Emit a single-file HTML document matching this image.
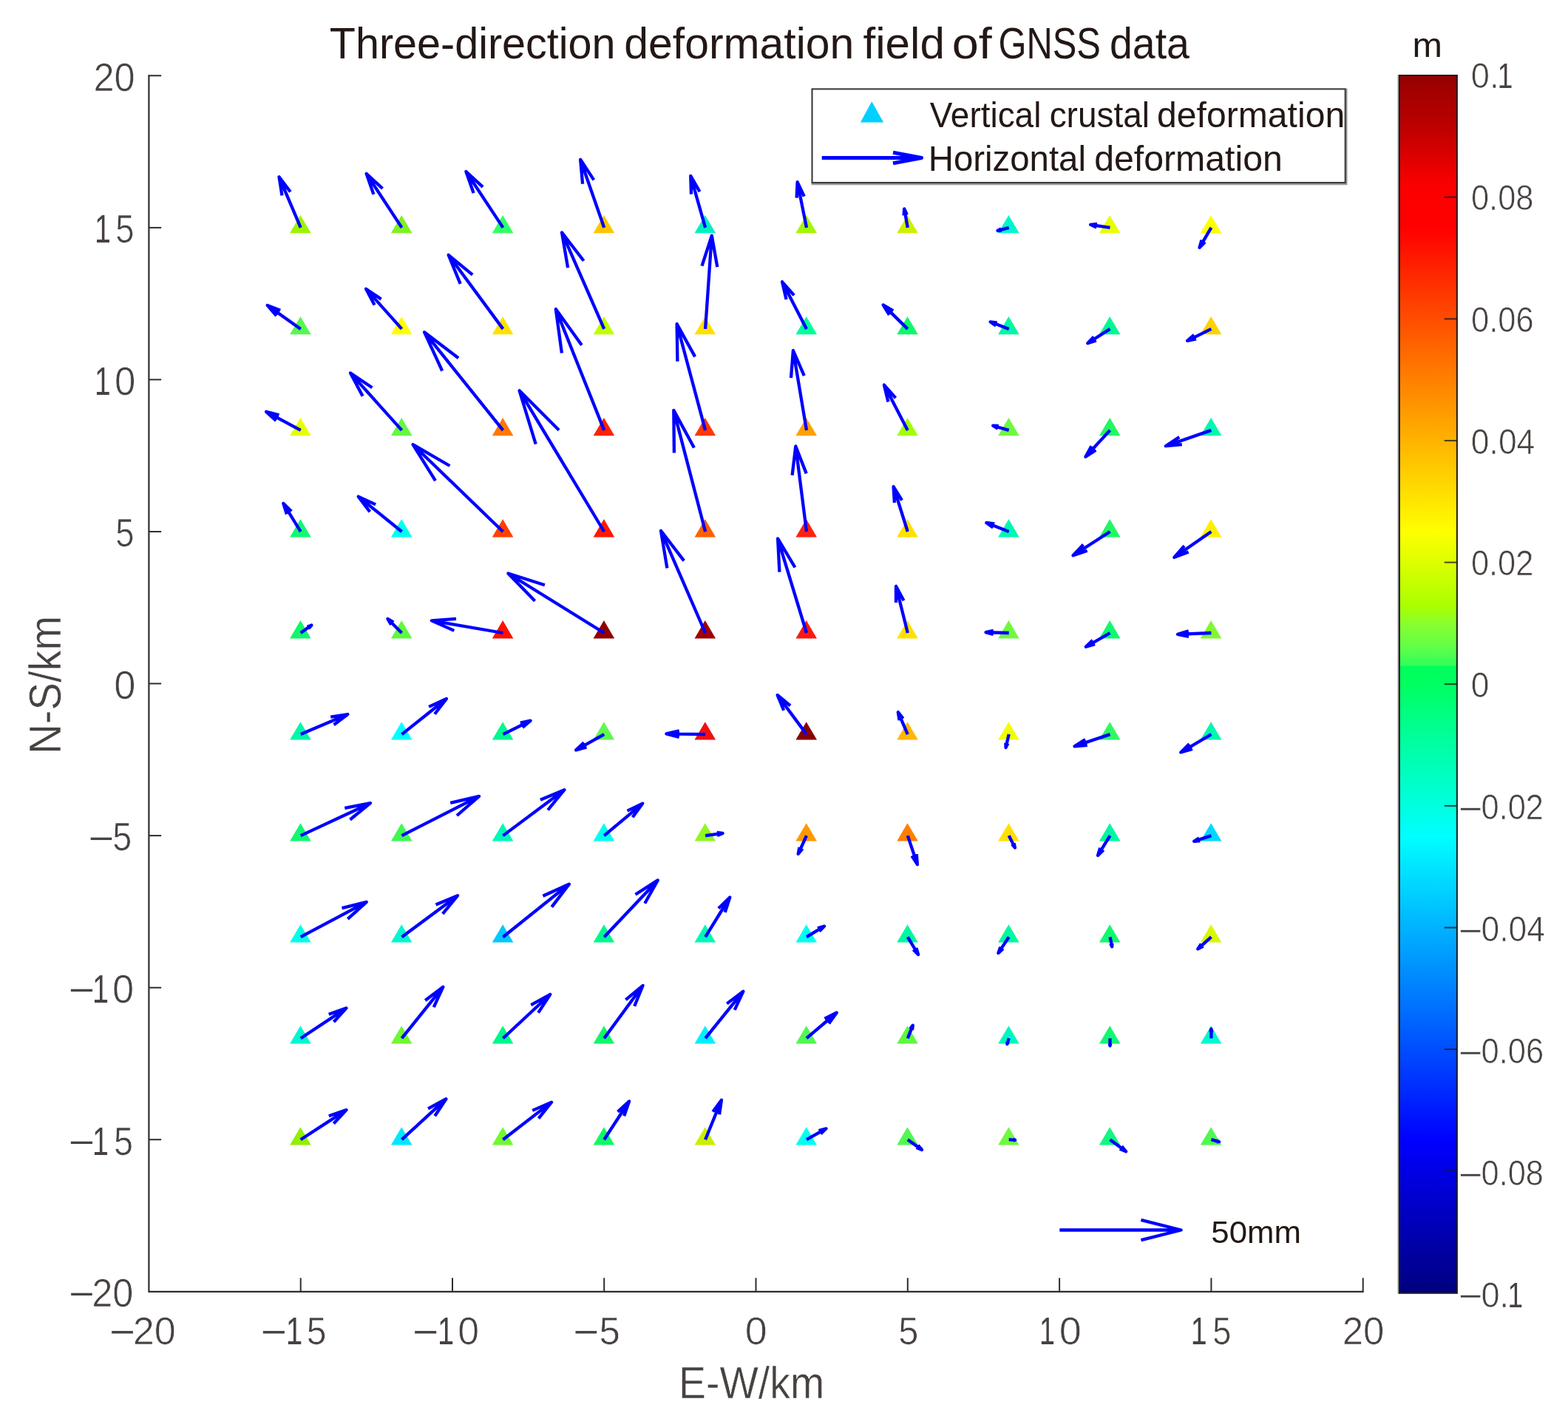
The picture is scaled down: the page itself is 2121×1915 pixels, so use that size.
<!DOCTYPE html><html><head><meta charset="utf-8"><title>Three-direction deformation field of GNSS data</title>
<style>html,body{margin:0;padding:0;background:#fff}svg{display:block}text{font-family:"Liberation Sans",sans-serif}</style></head><body>
<svg width="2121" height="1915" viewBox="0 0 2121 1915">
<rect width="2121" height="1915" fill="#fff"/>
<defs><linearGradient id="jet" x1="0" y1="0" x2="0" y2="1">
<stop offset="0.00000" stop-color="#960000"/>
<stop offset="0.04499" stop-color="#c00000"/>
<stop offset="0.08998" stop-color="#fb0000"/>
<stop offset="0.12497" stop-color="#ff0000"/>
<stop offset="0.24994" stop-color="#ff8000"/>
<stop offset="0.37491" stop-color="#ffff00"/>
<stop offset="0.41190" stop-color="#ccff00"/>
<stop offset="0.43589" stop-color="#aaff00"/>
<stop offset="0.45039" stop-color="#88ff30"/>
<stop offset="0.46989" stop-color="#60ff48"/>
<stop offset="0.48438" stop-color="#30ff58"/>
<stop offset="0.48538" stop-color="#00ff5c"/>
<stop offset="0.49988" stop-color="#00ff60"/>
<stop offset="0.54737" stop-color="#00ffa0"/>
<stop offset="0.62485" stop-color="#00ffff"/>
<stop offset="0.74982" stop-color="#0080ff"/>
<stop offset="0.87479" stop-color="#0000ff"/>
<stop offset="0.99976" stop-color="#000080"/>
</linearGradient></defs>
<rect x="1890.4" y="101.0" width="2.2" height="1648.8" fill="#a8a8a8"/>
<rect x="1892.9" y="102.0" width="78.0" height="1646.8" fill="url(#jet)" stroke="#1c1c1c" stroke-width="2"/>
<g stroke="#1a1a1a" stroke-opacity="0.8" stroke-width="2">
<line x1="1953.7" y1="266.6" x2="1970.9" y2="266.6"/>
<line x1="1953.7" y1="431.3" x2="1970.9" y2="431.3"/>
<line x1="1953.7" y1="595.9" x2="1970.9" y2="595.9"/>
<line x1="1953.7" y1="760.6" x2="1970.9" y2="760.6"/>
<line x1="1953.7" y1="925.2" x2="1970.9" y2="925.2"/>
<line x1="1953.7" y1="1089.8" x2="1970.9" y2="1089.8"/>
<line x1="1953.7" y1="1254.5" x2="1970.9" y2="1254.5"/>
<line x1="1953.7" y1="1419.1" x2="1970.9" y2="1419.1"/>
<line x1="1953.7" y1="1583.8" x2="1970.9" y2="1583.8"/>
</g>
<text y="118.97" font-size="47.75" fill="#474240"><tspan x="1989.84" textLength="37.74" lengthAdjust="spacingAndGlyphs" stroke="#fff" stroke-width="0.7">0.</tspan><tspan x="2025.83" textLength="20.57" lengthAdjust="spacingAndGlyphs">1</tspan></text>
<text x="1989.91" y="283.83" font-size="47.75" fill="#474240" textLength="84.53" lengthAdjust="spacingAndGlyphs" stroke="#fff" stroke-width="0.7">0.08</text>
<text x="1989.91" y="448.69" font-size="47.75" fill="#474240" textLength="84.76" lengthAdjust="spacingAndGlyphs" stroke="#fff" stroke-width="0.7">0.06</text>
<text x="1989.87" y="613.55" font-size="47.75" fill="#474240" textLength="86.47" lengthAdjust="spacingAndGlyphs" stroke="#fff" stroke-width="0.7">0.04</text>
<text x="1989.91" y="778.41" font-size="47.75" fill="#474240" textLength="84.46" lengthAdjust="spacingAndGlyphs" stroke="#fff" stroke-width="0.7">0.02</text>
<text x="1989.87" y="943.27" font-size="47.75" fill="#474240" textLength="24.71" lengthAdjust="spacingAndGlyphs" stroke="#fff" stroke-width="0.7">0</text>
<text y="1108.13" font-size="47.75" fill="#474240"><tspan x="1973.09" dy="1.80" textLength="32.87" lengthAdjust="spacingAndGlyphs" stroke="#fff" stroke-width="0.6">−</tspan><tspan x="2003.51" dy="-1.80" textLength="84.46" lengthAdjust="spacingAndGlyphs" stroke="#fff" stroke-width="0.7">0.02</tspan></text>
<text y="1272.99" font-size="47.75" fill="#474240"><tspan x="1973.09" dy="1.80" textLength="32.87" lengthAdjust="spacingAndGlyphs" stroke="#fff" stroke-width="0.6">−</tspan><tspan x="2003.47" dy="-1.80" textLength="86.47" lengthAdjust="spacingAndGlyphs" stroke="#fff" stroke-width="0.7">0.04</tspan></text>
<text y="1437.85" font-size="47.75" fill="#474240"><tspan x="1973.09" dy="1.80" textLength="32.87" lengthAdjust="spacingAndGlyphs" stroke="#fff" stroke-width="0.6">−</tspan><tspan x="2003.51" dy="-1.80" textLength="84.76" lengthAdjust="spacingAndGlyphs" stroke="#fff" stroke-width="0.7">0.06</tspan></text>
<text y="1602.71" font-size="47.75" fill="#474240"><tspan x="1973.09" dy="1.80" textLength="32.87" lengthAdjust="spacingAndGlyphs" stroke="#fff" stroke-width="0.6">−</tspan><tspan x="2003.51" dy="-1.80" textLength="84.53" lengthAdjust="spacingAndGlyphs" stroke="#fff" stroke-width="0.7">0.08</tspan></text>
<text y="1767.57" font-size="47.75" fill="#474240"><tspan x="1973.09" dy="1.80" textLength="32.87" lengthAdjust="spacingAndGlyphs" stroke="#fff" stroke-width="0.6">−</tspan><tspan x="2003.44" dy="-1.80" textLength="37.74" lengthAdjust="spacingAndGlyphs" stroke="#fff" stroke-width="0.7">0.</tspan><tspan x="2039.43" textLength="20.57" lengthAdjust="spacingAndGlyphs">1</tspan></text>
<text x="1910.64" y="76.80" font-size="46.67" fill="#231815" textLength="40.46" lengthAdjust="spacingAndGlyphs">m</text>
<path d="M201.4 101.3L201.4 1746.8L1844.65 1746.8" stroke="#2e2e2e" stroke-width="2.2" fill="none"/>
<g stroke="#2e2e2e" stroke-width="2">
<line x1="406.7" y1="1746.8" x2="406.7" y2="1728.3"/>
<line x1="201.4" y1="1541.2" x2="218.20000000000002" y2="1541.2"/>
<line x1="612.0" y1="1746.8" x2="612.0" y2="1728.3"/>
<line x1="201.4" y1="1335.7" x2="218.20000000000002" y2="1335.7"/>
<line x1="817.2" y1="1746.8" x2="817.2" y2="1728.3"/>
<line x1="201.4" y1="1130.1" x2="218.20000000000002" y2="1130.1"/>
<line x1="1022.5" y1="1746.8" x2="1022.5" y2="1728.3"/>
<line x1="201.4" y1="924.5" x2="218.20000000000002" y2="924.5"/>
<line x1="1227.8" y1="1746.8" x2="1227.8" y2="1728.3"/>
<line x1="201.4" y1="719.0" x2="218.20000000000002" y2="719.0"/>
<line x1="1433.1" y1="1746.8" x2="1433.1" y2="1728.3"/>
<line x1="201.4" y1="513.4" x2="218.20000000000002" y2="513.4"/>
<line x1="1638.4" y1="1746.8" x2="1638.4" y2="1728.3"/>
<line x1="201.4" y1="307.9" x2="218.20000000000002" y2="307.9"/>
<line x1="1843.7" y1="1746.8" x2="1843.7" y2="1728.3"/>
<line x1="201.4" y1="102.3" x2="218.20000000000002" y2="102.3"/>
</g>
<text y="1817.63" font-size="52.39" fill="#474240"><tspan x="148.11" dy="1.10" textLength="34.98" lengthAdjust="spacingAndGlyphs" stroke="#fff" stroke-width="0.3">−</tspan><tspan x="179.74" dy="-1.10" textLength="58.06" lengthAdjust="spacingAndGlyphs" stroke="#fff" stroke-width="0.7">20</tspan></text>
<text y="1817.63" font-size="52.39" fill="#474240"><tspan x="352.73" dy="1.10" textLength="35.28" lengthAdjust="spacingAndGlyphs" stroke="#fff" stroke-width="0.3">−</tspan><tspan x="386.87" dy="-1.10" textLength="22.51" lengthAdjust="spacingAndGlyphs">1</tspan><tspan x="414.72" textLength="26.81" lengthAdjust="spacingAndGlyphs" stroke="#fff" stroke-width="0.7">5</tspan></text>
<text y="1817.63" font-size="52.39" fill="#474240"><tspan x="557.94" dy="1.10" textLength="35.16" lengthAdjust="spacingAndGlyphs" stroke="#fff" stroke-width="0.3">−</tspan><tspan x="591.92" dy="-1.10" textLength="22.12" lengthAdjust="spacingAndGlyphs">1</tspan><tspan x="619.28" textLength="28.80" lengthAdjust="spacingAndGlyphs" stroke="#fff" stroke-width="0.7">0</tspan></text>
<text y="1817.63" font-size="52.39" fill="#474240"><tspan x="775.16" dy="1.10" textLength="34.92" lengthAdjust="spacingAndGlyphs" stroke="#fff" stroke-width="0.3">−</tspan><tspan x="810.41" dy="-1.10" textLength="28.34" lengthAdjust="spacingAndGlyphs" stroke="#fff" stroke-width="0.7">5</tspan></text>
<text x="1007.79" y="1817.63" font-size="52.39" fill="#474240" textLength="29.97" lengthAdjust="spacingAndGlyphs" stroke="#fff" stroke-width="0.7">0</text>
<text x="1215.20" y="1817.63" font-size="52.39" fill="#474240" textLength="27.16" lengthAdjust="spacingAndGlyphs" stroke="#fff" stroke-width="0.7">5</text>
<text y="1817.63" font-size="52.39" fill="#474240"><tspan x="1406.07" textLength="20.95" lengthAdjust="spacingAndGlyphs">1</tspan><tspan x="1432.89" textLength="30.09" lengthAdjust="spacingAndGlyphs" stroke="#fff" stroke-width="0.7">0</tspan></text>
<text y="1817.63" font-size="52.39" fill="#474240"><tspan x="1610.85" textLength="21.86" lengthAdjust="spacingAndGlyphs">1</tspan><tspan x="1640.24" textLength="25.17" lengthAdjust="spacingAndGlyphs" stroke="#fff" stroke-width="0.7">5</tspan></text>
<text x="1815.70" y="1817.63" font-size="52.39" fill="#474240" textLength="56.76" lengthAdjust="spacingAndGlyphs" stroke="#fff" stroke-width="0.7">20</text>
<text x="126.43" y="122.62" font-size="53.10" fill="#474240" textLength="56.11" lengthAdjust="spacingAndGlyphs" stroke="#fff" stroke-width="0.7">20</text>
<text y="328.18" font-size="53.10" fill="#474240"><tspan x="127.95" textLength="21.86" lengthAdjust="spacingAndGlyphs">1</tspan><tspan x="156.34" textLength="25.17" lengthAdjust="spacingAndGlyphs" stroke="#fff" stroke-width="0.7">5</tspan></text>
<text y="533.74" font-size="53.10" fill="#474240"><tspan x="128.09" textLength="21.60" lengthAdjust="spacingAndGlyphs">1</tspan><tspan x="155.11" textLength="28.34" lengthAdjust="spacingAndGlyphs" stroke="#fff" stroke-width="0.7">0</tspan></text>
<text x="156.24" y="739.31" font-size="53.10" fill="#474240" textLength="25.17" lengthAdjust="spacingAndGlyphs" stroke="#fff" stroke-width="0.7">5</text>
<text x="154.35" y="944.87" font-size="53.10" fill="#474240" textLength="29.16" lengthAdjust="spacingAndGlyphs" stroke="#fff" stroke-width="0.7">0</text>
<text y="1150.43" font-size="53.10" fill="#474240"><tspan x="119.27" dy="1.10" textLength="34.80" lengthAdjust="spacingAndGlyphs" stroke="#fff" stroke-width="0.3">−</tspan><tspan x="152.28" dy="-1.10" textLength="25.99" lengthAdjust="spacingAndGlyphs" stroke="#fff" stroke-width="0.7">5</tspan></text>
<text y="1355.99" font-size="53.10" fill="#474240"><tspan x="92.52" dy="1.10" textLength="35.34" lengthAdjust="spacingAndGlyphs" stroke="#fff" stroke-width="0.3">−</tspan><tspan x="125.03" dy="-1.10" textLength="22.05" lengthAdjust="spacingAndGlyphs">1</tspan><tspan x="152.05" textLength="29.16" lengthAdjust="spacingAndGlyphs" stroke="#fff" stroke-width="0.7">0</tspan></text>
<text y="1561.56" font-size="53.10" fill="#474240"><tspan x="92.52" dy="1.10" textLength="35.34" lengthAdjust="spacingAndGlyphs" stroke="#fff" stroke-width="0.3">−</tspan><tspan x="125.05" dy="-1.10" textLength="21.86" lengthAdjust="spacingAndGlyphs">1</tspan><tspan x="153.98" textLength="25.99" lengthAdjust="spacingAndGlyphs" stroke="#fff" stroke-width="0.7">5</tspan></text>
<text y="1767.12" font-size="53.10" fill="#474240"><tspan x="92.76" dy="1.10" textLength="34.92" lengthAdjust="spacingAndGlyphs" stroke="#fff" stroke-width="0.3">−</tspan><tspan x="124.22" dy="-1.10" textLength="56.21" lengthAdjust="spacingAndGlyphs" stroke="#fff" stroke-width="0.7">20</tspan></text>
<text x="917.91" y="1890.93" font-size="61.63" fill="#474240" textLength="197.23" lengthAdjust="spacingAndGlyphs" stroke="#fff" stroke-width="0.5">E-W/km</text>
<text transform="translate(82.14,1019.63) rotate(-90)" font-size="60.95" fill="#474240" textLength="186.80" lengthAdjust="spacingAndGlyphs" stroke="#fff" stroke-width="0.5">N-S/km</text>
<text y="78.70" font-size="59.86" fill="#231815"><tspan x="445.86" textLength="386.68" lengthAdjust="spacingAndGlyphs">Three-direction</tspan> <tspan x="844.34" textLength="310.93" lengthAdjust="spacingAndGlyphs">deformation</tspan> <tspan x="1167.50" textLength="110.39" lengthAdjust="spacingAndGlyphs">field</tspan> <tspan x="1287.81" textLength="54.03" lengthAdjust="spacingAndGlyphs">of</tspan> <tspan x="1350.46" textLength="138.49" lengthAdjust="spacingAndGlyphs">GNSS</tspan> <tspan x="1500.98" textLength="107.99" lengthAdjust="spacingAndGlyphs">data</tspan></text>
<g>
<path d="M406.4 291.0L420.7 315.3L392.1 315.3Z" fill="#9CF400"/>
<path d="M543.2 291.0L557.5 315.3L528.9 315.3Z" fill="#80F020"/>
<path d="M680.1 291.0L694.4 315.3L665.8 315.3Z" fill="#33FF66"/>
<path d="M816.9 291.0L831.2 315.3L802.6 315.3Z" fill="#FFC400"/>
<path d="M953.8 291.0L968.1 315.3L939.5 315.3Z" fill="#00F0C0"/>
<path d="M1090.7 291.0L1105.0 315.3L1076.4 315.3Z" fill="#A0F800"/>
<path d="M1227.5 291.0L1241.8 315.3L1213.2 315.3Z" fill="#D0F000"/>
<path d="M1364.4 291.0L1378.7 315.3L1350.1 315.3Z" fill="#00F8C8"/>
<path d="M1501.2 291.0L1515.5 315.3L1486.9 315.3Z" fill="#E8FF00"/>
<path d="M1638.1 291.0L1652.4 315.3L1623.8 315.3Z" fill="#FFFF00"/>
<path d="M406.4 428.0L420.7 452.3L392.1 452.3Z" fill="#55F850"/>
<path d="M543.2 428.0L557.5 452.3L528.9 452.3Z" fill="#FFFF00"/>
<path d="M680.1 428.0L694.4 452.3L665.8 452.3Z" fill="#FFE000"/>
<path d="M816.9 428.0L831.2 452.3L802.6 452.3Z" fill="#C0FF00"/>
<path d="M953.8 428.0L968.1 452.3L939.5 452.3Z" fill="#FFE000"/>
<path d="M1090.7 428.0L1105.0 452.3L1076.4 452.3Z" fill="#00FF98"/>
<path d="M1227.5 428.0L1241.8 452.3L1213.2 452.3Z" fill="#10F868"/>
<path d="M1364.4 428.0L1378.7 452.3L1350.1 452.3Z" fill="#00F8A0"/>
<path d="M1501.2 428.0L1515.5 452.3L1486.9 452.3Z" fill="#00F890"/>
<path d="M1638.1 428.0L1652.4 452.3L1623.8 452.3Z" fill="#FFD000"/>
<path d="M406.4 565.0L420.7 589.3L392.1 589.3Z" fill="#E6FF00"/>
<path d="M543.2 565.0L557.5 589.3L528.9 589.3Z" fill="#66F840"/>
<path d="M680.1 565.0L694.4 589.3L665.8 589.3Z" fill="#FF7800"/>
<path d="M816.9 565.0L831.2 589.3L802.6 589.3Z" fill="#FF2000"/>
<path d="M953.8 565.0L968.1 589.3L939.5 589.3Z" fill="#FF3800"/>
<path d="M1090.7 565.0L1105.0 589.3L1076.4 589.3Z" fill="#FFA000"/>
<path d="M1227.5 565.0L1241.8 589.3L1213.2 589.3Z" fill="#A0FF00"/>
<path d="M1364.4 565.0L1378.7 589.3L1350.1 589.3Z" fill="#70F840"/>
<path d="M1501.2 565.0L1515.5 589.3L1486.9 589.3Z" fill="#20F860"/>
<path d="M1638.1 565.0L1652.4 589.3L1623.8 589.3Z" fill="#00F8B0"/>
<path d="M406.4 702.1L420.7 726.4L392.1 726.4Z" fill="#10F870"/>
<path d="M543.2 702.1L557.5 726.4L528.9 726.4Z" fill="#00FFF0"/>
<path d="M680.1 702.1L694.4 726.4L665.8 726.4Z" fill="#FF4000"/>
<path d="M816.9 702.1L831.2 726.4L802.6 726.4Z" fill="#FF1800"/>
<path d="M953.8 702.1L968.1 726.4L939.5 726.4Z" fill="#FF6000"/>
<path d="M1090.7 702.1L1105.0 726.4L1076.4 726.4Z" fill="#FF2010"/>
<path d="M1227.5 702.1L1241.8 726.4L1213.2 726.4Z" fill="#FFE000"/>
<path d="M1364.4 702.1L1378.7 726.4L1350.1 726.4Z" fill="#00F8B0"/>
<path d="M1501.2 702.1L1515.5 726.4L1486.9 726.4Z" fill="#20F860"/>
<path d="M1638.1 702.1L1652.4 726.4L1623.8 726.4Z" fill="#FFF000"/>
<path d="M406.4 839.1L420.7 863.4L392.1 863.4Z" fill="#10F868"/>
<path d="M543.2 839.1L557.5 863.4L528.9 863.4Z" fill="#60F840"/>
<path d="M680.1 839.1L694.4 863.4L665.8 863.4Z" fill="#FF1000"/>
<path d="M816.9 839.1L831.2 863.4L802.6 863.4Z" fill="#900000"/>
<path d="M953.8 839.1L968.1 863.4L939.5 863.4Z" fill="#A00000"/>
<path d="M1090.7 839.1L1105.0 863.4L1076.4 863.4Z" fill="#FF1810"/>
<path d="M1227.5 839.1L1241.8 863.4L1213.2 863.4Z" fill="#FFE000"/>
<path d="M1364.4 839.1L1378.7 863.4L1350.1 863.4Z" fill="#70F840"/>
<path d="M1501.2 839.1L1515.5 863.4L1486.9 863.4Z" fill="#10F870"/>
<path d="M1638.1 839.1L1652.4 863.4L1623.8 863.4Z" fill="#80F830"/>
<path d="M406.4 976.2L420.7 1000.5L392.1 1000.5Z" fill="#00F8A8"/>
<path d="M543.2 976.2L557.5 1000.5L528.9 1000.5Z" fill="#00FFFF"/>
<path d="M680.1 976.2L694.4 1000.5L665.8 1000.5Z" fill="#00F890"/>
<path d="M816.9 976.2L831.2 1000.5L802.6 1000.5Z" fill="#60F850"/>
<path d="M953.8 976.2L968.1 1000.5L939.5 1000.5Z" fill="#F01010"/>
<path d="M1090.7 976.2L1105.0 1000.5L1076.4 1000.5Z" fill="#8B0000"/>
<path d="M1227.5 976.2L1241.8 1000.5L1213.2 1000.5Z" fill="#FFB800"/>
<path d="M1364.4 976.2L1378.7 1000.5L1350.1 1000.5Z" fill="#F0FF00"/>
<path d="M1501.2 976.2L1515.5 1000.5L1486.9 1000.5Z" fill="#30F860"/>
<path d="M1638.1 976.2L1652.4 1000.5L1623.8 1000.5Z" fill="#00F8B0"/>
<path d="M406.4 1113.2L420.7 1137.5L392.1 1137.5Z" fill="#10F870"/>
<path d="M543.2 1113.2L557.5 1137.5L528.9 1137.5Z" fill="#40F850"/>
<path d="M680.1 1113.2L694.4 1137.5L665.8 1137.5Z" fill="#00F8B8"/>
<path d="M816.9 1113.2L831.2 1137.5L802.6 1137.5Z" fill="#00FFF0"/>
<path d="M953.8 1113.2L968.1 1137.5L939.5 1137.5Z" fill="#90F820"/>
<path d="M1090.7 1113.2L1105.0 1137.5L1076.4 1137.5Z" fill="#FF9800"/>
<path d="M1227.5 1113.2L1241.8 1137.5L1213.2 1137.5Z" fill="#FF8000"/>
<path d="M1364.4 1113.2L1378.7 1137.5L1350.1 1137.5Z" fill="#FFE000"/>
<path d="M1501.2 1113.2L1515.5 1137.5L1486.9 1137.5Z" fill="#00F8A0"/>
<path d="M1638.1 1113.2L1652.4 1137.5L1623.8 1137.5Z" fill="#00D8FF"/>
<path d="M406.4 1250.3L420.7 1274.6L392.1 1274.6Z" fill="#00FFE8"/>
<path d="M543.2 1250.3L557.5 1274.6L528.9 1274.6Z" fill="#00F8D0"/>
<path d="M680.1 1250.3L694.4 1274.6L665.8 1274.6Z" fill="#00C8FF"/>
<path d="M816.9 1250.3L831.2 1274.6L802.6 1274.6Z" fill="#00F890"/>
<path d="M953.8 1250.3L968.1 1274.6L939.5 1274.6Z" fill="#00F8B8"/>
<path d="M1090.7 1250.3L1105.0 1274.6L1076.4 1274.6Z" fill="#00FFF0"/>
<path d="M1227.5 1250.3L1241.8 1274.6L1213.2 1274.6Z" fill="#00F8A0"/>
<path d="M1364.4 1250.3L1378.7 1274.6L1350.1 1274.6Z" fill="#00F8A0"/>
<path d="M1501.2 1250.3L1515.5 1274.6L1486.9 1274.6Z" fill="#10F870"/>
<path d="M1638.1 1250.3L1652.4 1274.6L1623.8 1274.6Z" fill="#D8F800"/>
<path d="M406.4 1387.3L420.7 1411.6L392.1 1411.6Z" fill="#00F8D0"/>
<path d="M543.2 1387.3L557.5 1411.6L528.9 1411.6Z" fill="#70F830"/>
<path d="M680.1 1387.3L694.4 1411.6L665.8 1411.6Z" fill="#00F888"/>
<path d="M816.9 1387.3L831.2 1411.6L802.6 1411.6Z" fill="#10F868"/>
<path d="M953.8 1387.3L968.1 1411.6L939.5 1411.6Z" fill="#00F0FF"/>
<path d="M1090.7 1387.3L1105.0 1411.6L1076.4 1411.6Z" fill="#50F850"/>
<path d="M1227.5 1387.3L1241.8 1411.6L1213.2 1411.6Z" fill="#60F840"/>
<path d="M1364.4 1387.3L1378.7 1411.6L1350.1 1411.6Z" fill="#00F8C0"/>
<path d="M1501.2 1387.3L1515.5 1411.6L1486.9 1411.6Z" fill="#10F870"/>
<path d="M1638.1 1387.3L1652.4 1411.6L1623.8 1411.6Z" fill="#00F8D0"/>
<path d="M406.4 1524.3L420.7 1548.6L392.1 1548.6Z" fill="#90F000"/>
<path d="M543.2 1524.3L557.5 1548.6L528.9 1548.6Z" fill="#00E8FF"/>
<path d="M680.1 1524.3L694.4 1548.6L665.8 1548.6Z" fill="#70F830"/>
<path d="M816.9 1524.3L831.2 1548.6L802.6 1548.6Z" fill="#10F868"/>
<path d="M953.8 1524.3L968.1 1548.6L939.5 1548.6Z" fill="#C8F000"/>
<path d="M1090.7 1524.3L1105.0 1548.6L1076.4 1548.6Z" fill="#00FFF0"/>
<path d="M1227.5 1524.3L1241.8 1548.6L1213.2 1548.6Z" fill="#50F850"/>
<path d="M1364.4 1524.3L1378.7 1548.6L1350.1 1548.6Z" fill="#70F840"/>
<path d="M1501.2 1524.3L1515.5 1548.6L1486.9 1548.6Z" fill="#10F880"/>
<path d="M1638.1 1524.3L1652.4 1548.6L1623.8 1548.6Z" fill="#50F850"/>
</g>
<g stroke="#0000ff" stroke-width="4.3" fill="none" stroke-linejoin="round">
<path d="M406.7 307.9L377.5 239.2M392.8 259.5L377.5 239.2L381.5 264.3"/>
<path d="M543.5 307.9L495.6 234.9M517.5 255.0L495.6 234.9L505.4 262.9"/>
<path d="M680.4 307.9L630.4 232.0M653.1 252.9L630.4 232.0L640.6 261.1"/>
<path d="M817.2 307.9L785.1 215.7M803.3 243.4L785.1 215.7L788.1 248.7"/>
<path d="M954.1 307.9L934.2 237.9M946.5 259.3L934.2 237.9L935.0 262.6"/>
<path d="M1091.0 307.9L1078.6 246.3M1087.8 265.6L1078.6 246.3L1077.6 267.7"/>
<path d="M1227.8 307.9L1223.2 282.5M1226.8 290.5L1223.2 282.5L1222.6 291.3"/>
<path d="M1364.7 307.9L1349.5 312.0M1354.2 309.4L1349.5 312.0L1354.8 311.9"/>
<path d="M1501.5 307.9L1475.0 303.8M1484.1 303.0L1475.0 303.8L1483.4 307.4"/>
<path d="M1638.4 307.9L1622.5 334.9M1625.5 324.7L1622.5 334.9L1630.0 327.3"/>
<path d="M406.7 444.9L361.7 412.9M379.2 419.8L361.7 412.9L373.9 427.2"/>
<path d="M543.5 444.9L495.1 390.7M515.6 404.6L495.1 390.7L506.6 412.6"/>
<path d="M680.4 444.9L606.6 344.8M639.2 371.7L606.6 344.8L622.7 383.9"/>
<path d="M817.2 444.9L760.0 314.4M789.6 352.7L760.0 314.4L768.1 362.2"/>
<path d="M954.1 444.9L962.8 318.7M970.3 361.1L962.8 318.7L949.5 359.6"/>
<path d="M1091.0 444.9L1058.0 381.1M1074.1 399.4L1058.0 381.1L1063.6 404.9"/>
<path d="M1227.8 444.9L1194.6 412.4M1208.2 420.4L1194.6 412.4L1202.9 425.8"/>
<path d="M1364.7 444.9L1339.6 435.3M1348.7 436.4L1339.6 435.3L1347.1 440.6"/>
<path d="M1501.5 444.9L1471.2 464.3M1479.6 455.4L1471.2 464.3L1482.8 460.4"/>
<path d="M1638.4 444.9L1606.0 460.9M1615.3 453.0L1606.0 460.9L1618.0 458.3"/>
<path d="M406.7 581.9L360.1 556.8M377.5 561.3L360.1 556.8L373.4 568.9"/>
<path d="M543.5 581.9L474.0 504.5M503.4 524.3L474.0 504.5L490.6 535.8"/>
<path d="M680.4 581.9L574.0 449.2M620.1 484.2L574.0 449.2L598.2 501.7"/>
<path d="M817.2 581.9L751.8 418.0M786.9 466.7L751.8 418.0L759.9 477.5"/>
<path d="M954.1 581.9L915.6 438.1M940.1 482.4L915.6 438.1L916.4 488.7"/>
<path d="M1091.0 581.9L1072.9 474.0M1087.8 508.2L1072.9 474.0L1070.0 511.1"/>
<path d="M1227.8 581.9L1195.9 520.6M1211.5 538.2L1195.9 520.6L1201.4 543.5"/>
<path d="M1364.7 581.9L1343.2 575.7M1350.8 576.0L1343.2 575.7L1349.8 579.6"/>
<path d="M1501.5 581.9L1468.4 617.8M1476.4 603.3L1468.4 617.8L1482.3 608.7"/>
<path d="M1638.4 581.9L1576.8 603.2M1595.3 591.1L1576.8 603.2L1598.8 601.2"/>
<path d="M406.7 719.0L383.3 680.8M394.2 691.5L383.3 680.8L387.9 695.3"/>
<path d="M543.5 719.0L484.8 671.6M508.1 682.4L484.8 671.6L500.3 692.1"/>
<path d="M680.4 719.0L558.5 601.2M608.4 630.0L558.5 601.2L589.0 650.2"/>
<path d="M817.2 719.0L702.6 528.3M756.1 581.8L702.6 528.3L724.7 600.7"/>
<path d="M954.1 719.0L911.3 554.9M938.9 605.5L911.3 554.9L911.9 612.6"/>
<path d="M1091.0 719.0L1076.3 603.5M1090.7 640.4L1076.3 603.5L1071.6 642.8"/>
<path d="M1227.8 719.0L1208.6 658.1M1220.0 676.6L1208.6 658.1L1209.9 679.8"/>
<path d="M1364.7 719.0L1334.3 707.0M1345.3 708.4L1334.3 707.0L1343.3 713.4"/>
<path d="M1501.5 719.0L1451.5 751.3M1465.4 736.5L1451.5 751.3L1470.7 744.8"/>
<path d="M1638.4 719.0L1588.3 753.8M1602.0 738.2L1588.3 753.8L1607.7 746.4"/>
<path d="M406.7 856.0L421.4 845.5M417.4 850.2L421.4 845.5L415.7 847.7"/>
<path d="M543.5 856.0L524.4 836.9M532.3 841.6L524.4 836.9L529.1 844.8"/>
<path d="M680.4 856.0L583.8 839.4M617.0 836.9L583.8 839.4L614.3 852.9"/>
<path d="M817.2 856.0L687.4 775.5M736.9 791.3L687.4 775.5L723.6 812.8"/>
<path d="M954.1 856.0L894.0 717.8M925.2 758.4L894.0 717.8L902.4 768.4"/>
<path d="M1091.0 856.0L1052.1 728.4M1075.4 767.3L1052.1 728.4L1054.4 773.7"/>
<path d="M1227.8 856.0L1212.0 792.8M1222.5 812.3L1212.0 792.8L1212.0 814.9"/>
<path d="M1364.7 856.0L1333.5 855.1M1343.8 852.8L1333.5 855.1L1343.7 858.0"/>
<path d="M1501.5 856.0L1468.8 874.8M1478.0 865.9L1468.8 874.8L1481.1 871.3"/>
<path d="M1638.4 856.0L1593.0 857.8M1607.8 853.4L1593.0 857.8L1608.1 860.9"/>
<path d="M406.7 993.1L470.4 966.0M451.6 980.2L470.4 966.0L447.2 969.7"/>
<path d="M543.5 993.1L604.0 945.0M588.0 965.8L604.0 945.0L580.1 955.9"/>
<path d="M680.4 993.1L717.6 974.7M706.8 983.8L717.6 974.7L703.8 977.7"/>
<path d="M817.2 993.1L779.1 1014.4M789.9 1004.2L779.1 1014.4L793.5 1010.5"/>
<path d="M954.1 993.1L901.4 992.4M918.8 988.3L901.4 992.4L918.7 997.0"/>
<path d="M1091.0 993.1L1051.6 940.0M1069.0 954.3L1051.6 940.0L1060.2 960.8"/>
<path d="M1227.8 993.1L1214.8 963.1M1221.6 971.9L1214.8 963.1L1216.6 974.1"/>
<path d="M1364.7 993.1L1360.5 1011.0M1360.4 1004.7L1360.5 1011.0L1363.3 1005.4"/>
<path d="M1501.5 993.1L1453.5 1009.3M1468.0 1000.0L1453.5 1009.3L1470.7 1007.9"/>
<path d="M1638.4 993.1L1597.3 1017.5M1608.8 1006.1L1597.3 1017.5L1612.9 1012.9"/>
<path d="M406.7 1130.1L501.0 1086.2M473.5 1108.5L501.0 1086.2L466.3 1092.9"/>
<path d="M543.5 1130.1L648.1 1076.8M618.0 1103.0L648.1 1076.8L609.2 1085.8"/>
<path d="M680.4 1130.1L763.4 1068.2M741.1 1095.5L763.4 1068.2L730.9 1081.8"/>
<path d="M817.2 1130.1L869.3 1086.6M855.7 1105.2L869.3 1086.6L848.5 1096.6"/>
<path d="M954.1 1130.1L977.6 1126.9M970.1 1129.9L977.6 1126.9L969.6 1126.0"/>
<path d="M1091.0 1130.1L1079.7 1154.9M1081.4 1145.8L1079.7 1154.9L1085.5 1147.6"/>
<path d="M1227.8 1130.1L1240.9 1169.2M1233.4 1157.4L1240.9 1169.2L1239.8 1155.2"/>
<path d="M1364.7 1130.1L1372.9 1146.4M1368.9 1141.7L1372.9 1146.4L1371.6 1140.3"/>
<path d="M1501.5 1130.1L1485.0 1156.9M1488.2 1146.7L1485.0 1156.9L1492.6 1149.4"/>
<path d="M1638.4 1130.1L1615.1 1137.8M1622.1 1133.3L1615.1 1137.8L1623.4 1137.2"/>
<path d="M406.7 1267.2L495.8 1219.8M470.3 1242.8L495.8 1219.8L462.5 1228.1"/>
<path d="M543.5 1267.2L619.1 1211.2M598.8 1235.9L619.1 1211.2L589.5 1223.4"/>
<path d="M680.4 1267.2L769.9 1195.6M746.3 1226.6L769.9 1195.6L734.4 1211.8"/>
<path d="M817.2 1267.2L889.8 1190.4M872.2 1221.7L889.8 1190.4L859.5 1209.7"/>
<path d="M954.1 1267.2L987.3 1213.5M980.7 1233.9L987.3 1213.5L971.9 1228.5"/>
<path d="M1091.0 1267.2L1115.1 1252.6M1108.3 1259.4L1115.1 1252.6L1105.9 1255.4"/>
<path d="M1227.8 1267.2L1242.1 1291.0M1235.4 1284.3L1242.1 1291.0L1239.3 1282.0"/>
<path d="M1364.7 1267.2L1350.4 1288.9M1353.3 1280.6L1350.4 1288.9L1356.9 1282.9"/>
<path d="M1501.5 1267.2L1504.2 1280.3M1502.3 1276.2L1504.2 1280.3L1504.4 1275.7"/>
<path d="M1638.4 1267.2L1620.3 1283.4M1624.9 1276.5L1620.3 1283.4L1627.6 1279.5"/>
<path d="M406.7 1404.2L468.5 1363.4M451.5 1382.0L468.5 1363.4L444.7 1371.8"/>
<path d="M543.5 1404.2L599.4 1334.6M586.7 1362.2L599.4 1334.6L575.2 1353.0"/>
<path d="M680.4 1404.2L744.3 1344.8M728.1 1369.7L744.3 1344.8L718.3 1359.1"/>
<path d="M817.2 1404.2L869.6 1332.8M858.2 1360.7L869.6 1332.8L846.4 1352.1"/>
<path d="M954.1 1404.2L1005.4 1340.6M993.7 1365.8L1005.4 1340.6L983.2 1357.4"/>
<path d="M1091.0 1404.2L1131.8 1369.5M1121.2 1384.3L1131.8 1369.5L1115.4 1377.6"/>
<path d="M1227.8 1404.2L1234.8 1386.6M1234.0 1393.0L1234.8 1386.6L1231.1 1391.8"/>
<path d="M1364.7 1404.2L1362.4 1412.0M1362.5 1409.2L1362.4 1412.0L1363.8 1409.6"/>
<path d="M1501.5 1404.2L1501.5 1414.3M1500.7 1411.0L1501.5 1414.3L1502.3 1411.0"/>
<path d="M1638.4 1404.2L1638.4 1391.5M1639.4 1395.7L1638.4 1391.5L1637.3 1395.7"/>
<path d="M406.7 1541.2L468.5 1501.1M451.4 1519.5L468.5 1501.1L444.8 1509.3"/>
<path d="M543.5 1541.2L603.4 1486.2M588.2 1509.3L603.4 1486.2L579.1 1499.4"/>
<path d="M680.4 1541.2L746.0 1490.6M728.5 1512.7L746.0 1490.6L720.2 1501.9"/>
<path d="M817.2 1541.2L851.1 1489.3M844.2 1509.3L851.1 1489.3L835.6 1503.7"/>
<path d="M954.1 1541.2L975.9 1487.7M973.1 1507.2L975.9 1487.7L964.3 1503.6"/>
<path d="M1091.0 1541.2L1117.5 1526.3M1110.0 1533.4L1117.5 1526.3L1107.5 1529.1"/>
<path d="M1227.8 1541.2L1247.0 1555.0M1239.6 1552.0L1247.0 1555.0L1241.8 1548.9"/>
<path d="M1364.7 1541.2L1373.1 1541.8M1370.2 1542.3L1373.1 1541.8L1370.3 1540.9"/>
<path d="M1501.5 1541.2L1523.2 1557.3M1514.7 1553.8L1523.2 1557.3L1517.3 1550.2"/>
<path d="M1638.4 1541.2L1649.1 1544.1M1645.3 1544.0L1649.1 1544.1L1645.8 1542.3"/>
<path d="M1433.3 1663.5L1597.6 1663.5M1543.4 1677.1L1597.6 1663.5L1543.4 1649.9"/>
</g>
<text x="1638.35" y="1680.97" font-size="43.38" fill="#231815" textLength="121.75" lengthAdjust="spacingAndGlyphs">50mm</text>
<path d="M1097.6 249.0L1821.3 249.0L1821.3 119.8" fill="none" stroke="#9a9a9a" stroke-width="2.4"/>
<rect x="1098.5" y="120.4" width="721.2" height="126.6" fill="#fff" stroke="#3c3c3c" stroke-width="2.1"/>
<path d="M1179.2 137.3L1195.1 165.5L1163.9 165.5Z" fill="#00d0ff"/>
<path d="M1111.7 213.5L1246.5 213.5M1208 206.3L1246.5 213.5L1208 220.7" stroke="#0000ff" stroke-width="5" fill="none" stroke-linejoin="round"/>
<text y="172.40" font-size="48.26" fill="#231815"><tspan x="1257.77" textLength="150.58" lengthAdjust="spacingAndGlyphs">Vertical</tspan> <tspan x="1419.63" textLength="135.47" lengthAdjust="spacingAndGlyphs">crustal</tspan> <tspan x="1565.08" textLength="254.09" lengthAdjust="spacingAndGlyphs">deformation</tspan></text>
<text y="230.60" font-size="47.83" fill="#231815"><tspan x="1255.81" textLength="213.16" lengthAdjust="spacingAndGlyphs">Horizontal</tspan> <tspan x="1480.17" textLength="254.70" lengthAdjust="spacingAndGlyphs">deformation</tspan></text>
</svg></body></html>
